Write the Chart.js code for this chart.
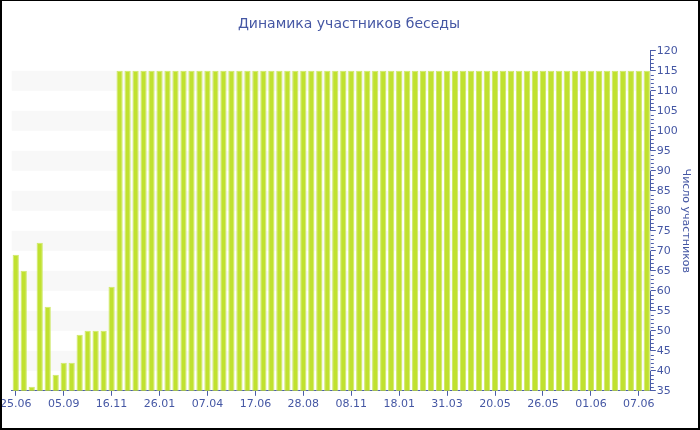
<!DOCTYPE html>
<html>
<head>
<meta charset="utf-8">
<script src="https://cdn.jsdelivr.net/npm/chart.js@4"></script>
<style>
	body { margin: 0; background: #fff; }
	#wrap { position: relative; width: 700px; height: 430px; box-sizing: border-box; border: 2px solid #000; border-top-width: 1px; overflow: hidden; }
	#grafico { position: absolute; left: -4px; top: 0; }
</style>
</head>
<body>
<div id="wrap"><canvas id="grafico" width="702" height="429"></canvas></div>
<script>
var datas = [
	"25.06","07.07","19.07","31.07","12.08","24.08","05.09","17.09","29.09","11.10","23.10","04.11",
	"16.11","28.11","10.12","22.12","03.01","15.01","26.01","07.02","19.02","03.03","15.03","27.03",
	"07.04","19.04","01.05","13.05","25.05","06.06","17.06","29.06","11.07","23.07","04.08","16.08",
	"28.08","09.09","21.09","03.10","15.10","27.10","08.11","20.11","02.12","14.12","26.12","07.01",
	"18.01","30.01","11.02","23.02","07.03","19.03","31.03","08.04","16.04","24.04","04.05","12.05",
	"20.05","21.05","22.05","23.05","24.05","25.05","26.05","27.05","28.05","29.05","30.05","31.05",
	"01.06","02.06","03.06","04.06","05.06","06.06","07.06","08.06"
];
var participantes = [
	69, 65, 36, 72, 56, 39, 42, 42, 49, 50, 50, 50, 61,
	115, 115, 115, 115, 115, 115, 115, 115, 115, 115, 115, 115, 115, 115, 115, 115, 115,
	115, 115, 115, 115, 115, 115, 115, 115, 115, 115, 115, 115, 115, 115, 115, 115, 115,
	115, 115, 115, 115, 115, 115, 115, 115, 115, 115, 115, 115, 115, 115, 115, 115, 115,
	115, 115, 115, 115, 115, 115, 115, 115, 115, 115, 115, 115, 115, 115, 115, 115, 115
];
var eixoMin = 35;
var eixoMax = 120;
var passoEixo = 5;
var passoLabelX = 6;

var corTexto = "#4557a4";
var corEixo = "#4a5ca8";

// faixas cinza alternadas atras das barras
var faixas = {
	id: 'faixas',
	beforeDatasetsDraw: function(chart){
		var ctx = chart.ctx, y = chart.scales.y, area = chart.chartArea;
		ctx.save();
		ctx.fillStyle = "#f8f8f8";
		for (var i = 1; i < y.ticks.length - 1; i += 2) {
			var y1 = y.getPixelForValue(y.ticks[i].value);
			var y2 = y.getPixelForValue(y.ticks[i + 1].value);
			ctx.fillRect(area.left, y2, area.right - area.left, y1 - y2);
		}
		ctx.restore();
	}
};

// tracinhos menores no eixo da direita
var tracosMenores = {
	id: 'tracosMenores',
	afterDraw: function(chart){
		var ctx = chart.ctx, y = chart.scales.y;
		ctx.save();
		ctx.strokeStyle = corEixo;
		ctx.lineWidth = 1;
		ctx.beginPath();
		for (var v = eixoMin; v <= eixoMax; v++) {
			if (v % passoEixo == 0) continue;
			var py = Math.round(y.getPixelForValue(v)) + 0.5;
			ctx.moveTo(y.left, py);
			ctx.lineTo(y.left + 3, py);
		}
		ctx.stroke();
		ctx.restore();
	}
};

new Chart(document.getElementById("grafico"), {
	type: 'bar',
	data: {
		labels: datas,
		datasets: [{
			label: "Участники",
			data: participantes,
			backgroundColor: "#c0e12f",
			borderColor: "#cfe96a",
			borderWidth: 1,
			borderSkipped: 'bottom',
			barPercentage: 0.78,
			categoryPercentage: 1.0
		}]
	},
	options: {
		responsive: false,
		animation: false,
		layout: { padding: { top: 5, right: 0, left: 0, bottom: 17 } },
		plugins: {
			legend: { display: false },
			tooltip: { enabled: false },
			title: {
				display: true,
				text: "Динамика участников беседы",
				color: corTexto,
				font: { family: "DejaVu Sans", size: 14, weight: 'normal' },
				padding: { top: 10, bottom: 18 }
			}
		},
		scales: {
			x: {
				offset: true,
				grid: {
					display: true,
					offset: false,
					drawOnChartArea: false,
					tickLength: 5,
					tickColor: function(c){ return c.index % passoLabelX == 0 ? corEixo : 'rgba(0,0,0,0)'; }
				},
				border: { color: corEixo, width: 1 },
				ticks: {
					autoSkip: false,
					maxRotation: 0,
					padding: 2,
					color: corTexto,
					font: { family: "DejaVu Sans", size: 11 },
					callback: function(v, i){ return i % passoLabelX == 0 ? datas[i] : ''; }
				}
			},
			y: {
				position: 'right',
				min: eixoMin,
				max: eixoMax,
				grid: { drawOnChartArea: false, tickLength: 5, color: corEixo },
				border: { color: corEixo, width: 1 },
				ticks: {
					stepSize: passoEixo,
					padding: 1,
					color: corTexto,
					font: { family: "DejaVu Sans", size: 11 }
				},
				title: {
					display: true,
					text: "Число участников",
					color: corTexto,
					font: { family: "DejaVu Sans", size: 11 },
					padding: { top: 8, bottom: 0 }
				}
			}
		}
	},
	plugins: [faixas, tracosMenores]
});
</script>
</body>
</html>
